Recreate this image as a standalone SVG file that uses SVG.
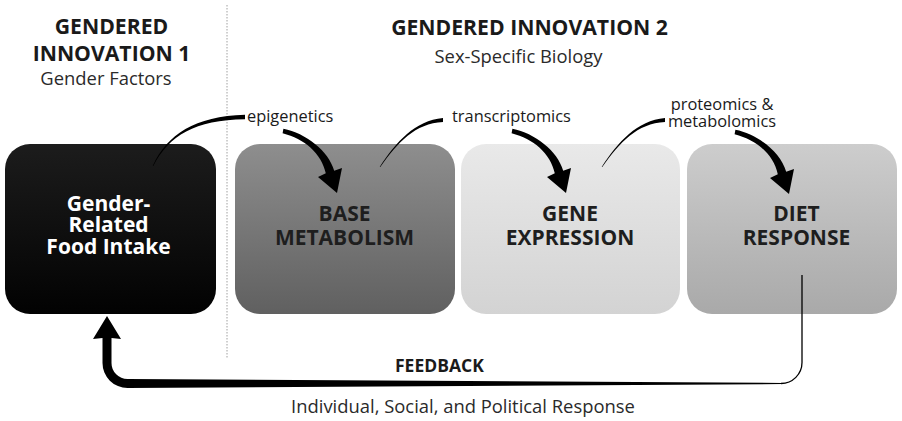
<svg xmlns="http://www.w3.org/2000/svg" xmlns:xlink="http://www.w3.org/1999/xlink" width="902" height="421" viewBox="0 0 902 421">
<defs>
<linearGradient id="g1" x1="0" y1="0" x2="0" y2="1"><stop offset="0" stop-color="#1c1c1c"/><stop offset="1" stop-color="#020202"/></linearGradient>
<linearGradient id="g2" x1="0" y1="0" x2="0" y2="1"><stop offset="0" stop-color="#8e8e8e"/><stop offset="1" stop-color="#606060"/></linearGradient>
<linearGradient id="g3" x1="0" y1="0" x2="0" y2="1"><stop offset="0" stop-color="#e9e9e9"/><stop offset="1" stop-color="#d3d3d3"/></linearGradient>
<linearGradient id="g4" x1="0" y1="0" x2="0" y2="1"><stop offset="0" stop-color="#cdcdcd"/><stop offset="1" stop-color="#a9a9a9"/></linearGradient>
<path id="bigArrow" d="M283.4,128.8 C305.6,133.2 328.6,150.8 334.2,170.8 L342,168 L337,193 L318,177 L325.8,173.2 C321.4,153.1 304.4,138.8 282.6,133.2 Z"/>
<path id="thinCurve" d="M379.7,166.9 C396.2,141.6 415,120.5 443,117.9 L443,122.1 C415,123.5 397.8,142.4 380.3,167.1 Z"/>
</defs>
<style>
.t{font-family:"Open Sans","Liberation Sans",sans-serif;}
.hb{font-weight:bold;font-size:21.2px;fill:#1a1a1a;text-anchor:middle;}
.sub{font-size:18.4px;fill:#2a2a2a;text-anchor:middle;}
.nb{font-weight:bold;font-size:21px;text-anchor:middle;}
.lbl{font-size:16.4px;fill:#1a1a1a;}
.box{stroke:none;}
</style>
<rect width="902" height="421" fill="#ffffff"/>
<line x1="227" y1="5" x2="227" y2="359" stroke="#a0a0a0" stroke-width="1" stroke-dasharray="1.5,1.5"/>
<g id="titles" class="t">
<text class="hb" x="111.5" y="34">GENDERED</text>
<text class="hb" x="111.5" y="61">INNOVATION 1</text>
<text class="sub" x="106" y="85">Gender Factors</text>
<text class="hb" x="529.5" y="35">GENDERED INNOVATION 2</text>
<text class="sub" x="518.5" y="63">Sex-Specific Biology</text>
</g>
<g id="node-food">
<rect class="box" x="5" y="144" width="211" height="170" rx="25" fill="url(#g1)"/>
<text class="t nb" fill="#ffffff" x="108.5" y="211">Gender-</text>
<text class="t nb" fill="#ffffff" x="108.5" y="232">Related</text>
<text class="t nb" fill="#ffffff" x="108.5" y="253.5">Food Intake</text>
</g>
<g id="node-base">
<rect class="box" x="235" y="144" width="220" height="170" rx="25" fill="url(#g2)"/>
<text class="t nb" fill="#1e1e1e" x="344.5" y="221">BASE</text>
<text class="t nb" fill="#1e1e1e" x="344.5" y="244.5">METABOLISM</text>
</g>
<g id="node-gene">
<rect class="box" x="461" y="144" width="219" height="170" rx="25" fill="url(#g3)"/>
<text class="t nb" fill="#1e1e1e" x="570" y="221">GENE</text>
<text class="t nb" fill="#1e1e1e" x="570" y="244.5">EXPRESSION</text>
</g>
<g id="node-diet">
<rect class="box" x="687" y="144" width="210" height="170" rx="25" fill="url(#g4)"/>
<text class="t nb" fill="#1e1e1e" x="796.5" y="221">DIET</text>
<text class="t nb" fill="#1e1e1e" x="796.5" y="244.5">RESPONSE</text>
</g>
<g id="connectors" fill="#000000">
<path d="M152.7,165.9 C167.1,134.6 195,116.2 245,114.8 L245,119.2 C195,119.8 168.9,135.4 153.3,166.1 Z"/>
<use xlink:href="#thinCurve"/>
<use xlink:href="#thinCurve" transform="translate(222,0)"/>
<use xlink:href="#bigArrow"/>
<use xlink:href="#bigArrow" transform="translate(229,0)"/>
<use xlink:href="#bigArrow" transform="translate(452,1)"/>
<path d="M107,316 L121,339 L111.5,338 L111.5,363 A16,16 0 0 0 127.5,379 L782,382.9 L782,384.1 L127.5,388 A25,25 0 0 1 102.5,363 L102.5,338 L93,339 Z"/>
<path d="M781,383.5 A21,21 0 0 0 802,362.5 L802,275" fill="none" stroke="#000" stroke-width="1.3"/>
</g>
<g id="labels" class="t">
<text class="lbl" x="247" y="122">epigenetics</text>
<text class="lbl" x="452" y="122">transcriptomics</text>
<text class="lbl" x="722" y="110" text-anchor="middle">proteomics &amp;</text>
<text class="lbl" x="722" y="127" text-anchor="middle">metabolomics</text>
<text x="395" y="372" font-weight="bold" font-size="17.5px" fill="#1a1a1a">FEEDBACK</text>
<text class="sub" x="463" y="413">Individual, Social, and Political Response</text>
</g>
</svg>
